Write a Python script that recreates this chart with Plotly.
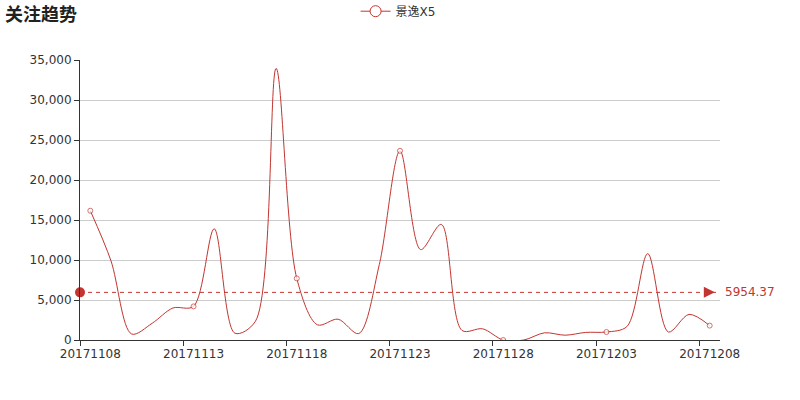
import plotly.graph_objects as go

# ---- data ----
dates = ['20171108', '20171109', '20171110', '20171111', '20171112', '20171113', '20171114',
         '20171115', '20171116', '20171117', '20171118', '20171119', '20171120', '20171121',
         '20171122', '20171123', '20171124', '20171125', '20171126', '20171127', '20171128',
         '20171129', '20171130', '20171201', '20171202', '20171203', '20171204', '20171205',
         '20171206', '20171207', '20171208']
values = [16160, 9900, 750, 2100, 4000, 4200, 13900, 850, 2350, 33950, 7700, 1900, 2600, 800,
          9450, 23650, 11300, 14450, 1200, 1400, 0, 0, 900, 600, 950, 1000, 1700, 10800,
          1000, 3200, 1800]
series_name = '景逸X5'
avg_value = 5954.37
label_step = 5

RED = '#c23531'
FONT = 'DejaVu Sans, Noto Sans CJK SC, sans-serif'

idx = list(range(len(dates)))
sizes = [5 if i % label_step == 0 else 0 for i in idx]
first, last = -0.5, len(dates) - 0.5

fig = go.Figure()

# main series (smooth line, hollow symbols every 5th point)
fig.add_trace(go.Scatter(
    x=idx, y=values, mode='lines+markers', name=series_name, showlegend=False,
    line=dict(color=RED, width=1, shape='spline', smoothing=0.9),
    marker=dict(size=sizes, color='white', line=dict(color=RED, width=1)),
))

# legend entry only
fig.add_trace(go.Scatter(
    x=[None], y=[None], mode='lines+markers', name=series_name,
    line=dict(color=RED, width=1),
    marker=dict(size=11, color='white', line=dict(color=RED, width=1)),
))

# average mark line
fig.add_trace(go.Scatter(
    x=[first, last], y=[avg_value, avg_value], mode='lines', showlegend=False,
    line=dict(color=RED, width=1, dash='4px,4px'), hoverinfo='skip',
))
fig.add_trace(go.Scatter(
    x=[first], y=[avg_value], mode='markers', showlegend=False, cliponaxis=False,
    marker=dict(size=10, color=RED, symbol='circle'), hoverinfo='skip',
))
fig.add_trace(go.Scatter(
    x=[last - 0.25], y=[avg_value], mode='markers', showlegend=False, cliponaxis=False,
    marker=dict(size=11, color=RED, symbol='arrow-right'), hoverinfo='skip',
))
fig.add_annotation(
    x=last, y=avg_value, xref='x', yref='y', text=f'{avg_value:.2f}', showarrow=False,
    xanchor='left', xshift=3, font=dict(color=RED, size=12, family=FONT),
)

fig.update_layout(
    width=800, height=400,
    margin=dict(l=80, r=80, t=60, b=60),
    paper_bgcolor='white', plot_bgcolor='white',
    font=dict(family=FONT, size=12, color='#333'),
    title=dict(text='<b>关注趋势</b>', x=5 / 800, xanchor='left', xref='container',
               y=1 - 15 / 400, yanchor='middle', yref='container',
               font=dict(size=18, color='#222', family=FONT)),
    legend=dict(orientation='h', x=0.497, xanchor='center', y=0.972, yanchor='middle',
                yref='container', font=dict(size=12, color='#333'), itemwidth=30),
    showlegend=True,
)

fig.update_xaxes(
    range=[first, last], tickvals=idx[::label_step], ticktext=dates[::label_step],
    ticks='', showgrid=False, zeroline=False, ticklabelstandoff=3,
    showline=True, linecolor='#333', linewidth=1,
    minor=dict(tickvals=[i - 0.5 for i in idx[::label_step]], ticks='outside',
               ticklen=5, tickcolor='#333', showgrid=False),
    tickfont=dict(size=12, color='#333'),
)
fig.update_yaxes(
    range=[0, 35000], dtick=5000, tickformat=',d',
    ticks='outside', ticklen=5, tickcolor='#333',
    showgrid=True, gridcolor='#ccc', gridwidth=1, zeroline=False,
    showline=True, linecolor='#333', linewidth=1,
    tickfont=dict(size=12, color='#333'),
)

fig.write_html('out.html', config={'displayModeBar': False},
               post_script="document.body.style.margin='0';")
